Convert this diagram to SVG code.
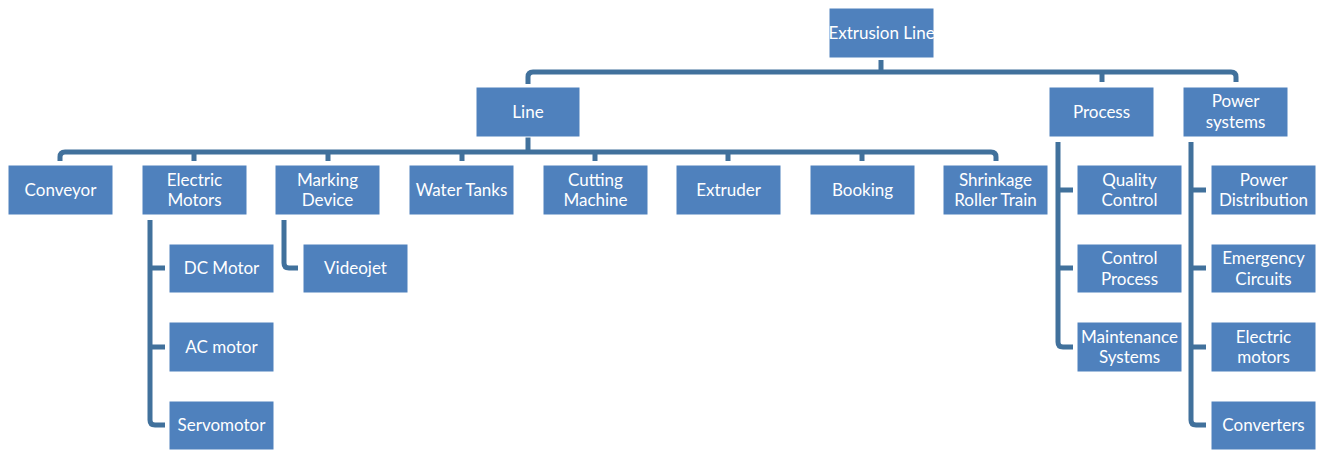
<svg xmlns="http://www.w3.org/2000/svg" width="1326" height="450" viewBox="0 0 1326 450">
  <style>
    .box { fill: #4F81BD; stroke: #FFFFFF; stroke-width: 1; }
    .lbl { fill: #FFFFFF; font-family: Lato, "Open Sans", "Liberation Sans", sans-serif; font-size: 17px; text-anchor: middle; dominant-baseline: central; }
    .wire { fill: none; stroke: #41719C; stroke-width: 5; }
  </style>
  <rect width="1326" height="450" fill="#FFFFFF"/>

  <!-- connectors -->
  <g id="connectors" class="wire">
    <!-- root to level 1 -->
    <path d="M881,60 V72"/>
    <path d="M528,84 V77 Q528,72 533,72 H1231 Q1236,72 1236,77 V82"/>
    <path d="M1102,72 V82"/>
    <!-- Line to its children -->
    <path d="M528,137 V152"/>
    <path d="M60,161 V157 Q60,152 65,152 H991 Q996,152 996,157 V161"/>
    <path d="M194,152 V161 M328,152 V161 M462,152 V161 M595,152 V161 M728,152 V161 M862,152 V161"/>
    <!-- Electric Motors -->
    <path d="M150,220 V420 Q150,425 155,425 H165"/>
    <path d="M150,268 H165 M150,347 H165"/>
    <!-- Marking Device -->
    <path d="M284,220 V263 Q284,268 289,268 H298"/>
    <!-- Process -->
    <path d="M1058,142 V342 Q1058,347 1063,347 H1073"/>
    <path d="M1058,190 H1073 M1058,268 H1073"/>
    <!-- Power systems -->
    <path d="M1191,142 V420 Q1191,425 1196,425 H1206"/>
    <path d="M1191,190 H1206 M1191,268 H1206 M1191,347 H1206"/>
  </g>

  <!-- root -->
  <g id="extrusion-line"><rect class="box" x="829" y="8" width="105" height="50"/><text class="lbl" x="881.5" y="32">Extrusion Line</text></g>

  <!-- level 1 -->
  <g id="line"><rect class="box" x="476" y="87" width="104" height="50"/><text class="lbl" x="528" y="111">Line</text></g>
  <g id="process"><rect class="box" x="1049" y="87" width="105" height="50"/><text class="lbl" x="1101.5" y="111">Process</text></g>
  <g id="power-systems"><rect class="box" x="1183" y="87" width="105" height="50"/><text class="lbl" x="1235.5" y="100">Power</text><text class="lbl" x="1235.5" y="121">systems</text></g>

  <!-- children of Line -->
  <g id="conveyor"><rect class="box" x="8" y="165" width="105" height="50"/><text class="lbl" x="60.5" y="189">Conveyor</text></g>
  <g id="electric-motors"><rect class="box" x="142" y="165" width="105" height="50"/><text class="lbl" x="194.5" y="179">Electric</text><text class="lbl" x="194.5" y="199.5">Motors</text></g>
  <g id="marking-device"><rect class="box" x="275" y="165" width="105" height="50"/><text class="lbl" x="327.5" y="179">Marking</text><text class="lbl" x="327.5" y="199.5">Device</text></g>
  <g id="water-tanks"><rect class="box" x="409" y="165" width="105" height="50"/><text class="lbl" x="461.5" y="189">Water Tanks</text></g>
  <g id="cutting-machine"><rect class="box" x="543" y="165" width="105" height="50"/><text class="lbl" x="595.5" y="179">Cutting</text><text class="lbl" x="595.5" y="199.5">Machine</text></g>
  <g id="extruder"><rect class="box" x="676" y="165" width="105" height="50"/><text class="lbl" x="728.5" y="189">Extruder</text></g>
  <g id="booking"><rect class="box" x="810" y="165" width="105" height="50"/><text class="lbl" x="862.5" y="189">Booking</text></g>
  <g id="shrinkage-roller-train"><rect class="box" x="943" y="165" width="105" height="50"/><text class="lbl" x="995.5" y="179">Shrinkage</text><text class="lbl" x="995.5" y="199.5">Roller Train</text></g>

  <!-- children of Electric Motors -->
  <g id="dc-motor"><rect class="box" x="169" y="244" width="105" height="49"/><text class="lbl" x="221.5" y="267.5">DC Motor</text></g>
  <g id="ac-motor"><rect class="box" x="169" y="322" width="105" height="50"/><text class="lbl" x="221.5" y="346">AC motor</text></g>
  <g id="servomotor"><rect class="box" x="169" y="401" width="105" height="49"/><text class="lbl" x="221.5" y="424.5">Servomotor</text></g>

  <!-- child of Marking Device -->
  <g id="videojet"><rect class="box" x="303" y="244" width="105" height="49"/><text class="lbl" x="355.5" y="267.5">Videojet</text></g>

  <!-- children of Process -->
  <g id="quality-control"><rect class="box" x="1077" y="165" width="105" height="50"/><text class="lbl" x="1129.5" y="179">Quality</text><text class="lbl" x="1129.5" y="199.5">Control</text></g>
  <g id="control-process"><rect class="box" x="1077" y="244" width="105" height="49"/><text class="lbl" x="1129.5" y="257.5">Control</text><text class="lbl" x="1129.5" y="278">Process</text></g>
  <g id="maintenance-systems"><rect class="box" x="1077" y="322" width="105" height="50"/><text class="lbl" x="1129.5" y="336">Maintenance</text><text class="lbl" x="1129.5" y="356.5">Systems</text></g>

  <!-- children of Power systems -->
  <g id="power-distribution"><rect class="box" x="1211" y="165" width="105" height="50"/><text class="lbl" x="1263.5" y="179">Power</text><text class="lbl" x="1263.5" y="199.5">Distribution</text></g>
  <g id="emergency-circuits"><rect class="box" x="1211" y="244" width="105" height="49"/><text class="lbl" x="1263.5" y="257.5">Emergency</text><text class="lbl" x="1263.5" y="278">Circuits</text></g>
  <g id="electric-motors-power"><rect class="box" x="1211" y="322" width="105" height="50"/><text class="lbl" x="1263.5" y="336">Electric</text><text class="lbl" x="1263.5" y="356.5">motors</text></g>
  <g id="converters"><rect class="box" x="1211" y="401" width="105" height="49"/><text class="lbl" x="1263.5" y="424.5">Converters</text></g>
</svg>
